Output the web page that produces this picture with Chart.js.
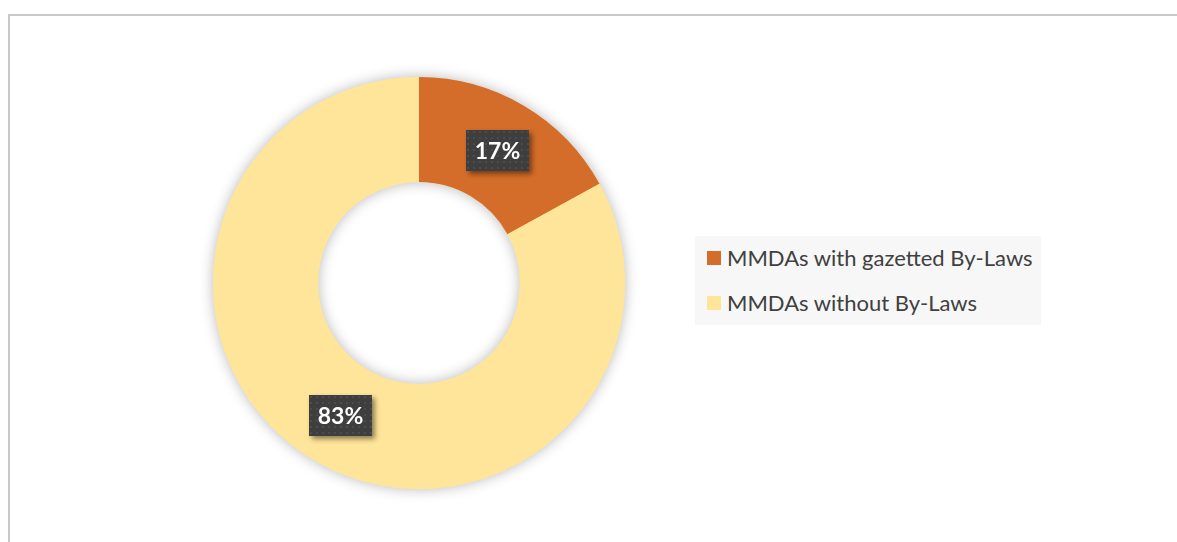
<!DOCTYPE html>
<html><head><meta charset="utf-8">
<script src="https://cdn.jsdelivr.net/npm/chart.js@4/dist/chart.umd.min.js"></script>
<style>
html,body{margin:0;padding:0;background:#fff;width:1177px;height:542px;overflow:hidden;}
#frame{position:absolute;left:8px;top:14px;width:1200px;height:600px;border-left:2px solid #c8c8c8;border-top:2px solid #c8c8c8;}
#c{position:absolute;left:0;top:0;}
#legend{position:absolute;left:695px;top:236px;width:346px;height:89px;background:#f7f7f7;font-family:Lato,"Open Sans",sans-serif;font-size:22px;color:#404040;}
.item{position:absolute;left:12px;height:24px;line-height:24px;white-space:nowrap;}
.sw{display:inline-block;width:14px;height:14px;vertical-align:middle;margin-right:6px;position:relative;top:-2px;}
</style></head>
<body>
<div id="frame"></div>
<canvas id="c" width="1177" height="542"></canvas>
<div id="legend"></div>
<script>
const categories = ["MMDAs with gazetted By-Laws", "MMDAs without By-Laws"];
const values = [17, 83];
const valueLabels = ["17%", "83%"];
const colors = ["#D46D29", "#FFE599"];

// HTML legend built from the arrays
const lg = document.getElementById('legend');
categories.forEach((cat, i) => {
  const d = document.createElement('div');
  d.className = 'item';
  d.style.top = (10 + i * 45) + 'px';
  d.innerHTML = '<span class="sw" style="background:' + colors[i] + '"></span>' + cat;
  lg.appendChild(d);
});

// dotted pattern for label boxes
function makePattern(ctx) {
  const p = document.createElement('canvas');
  p.width = 6; p.height = 6;
  const pc = p.getContext('2d');
  pc.fillStyle = '#3e3e3e';
  pc.fillRect(0, 0, 6, 6);
  pc.fillStyle = '#4c4c4c';
  pc.fillRect(1, 1, 2, 2);
  return ctx.createPattern(p, 'repeat');
}

const ringShadow = {
  id: 'ringShadow',
  beforeDatasetsDraw(chart) {
    const meta = chart.getDatasetMeta(0);
    const a = meta.data[0];
    if (!a) return;
    const ctx = chart.ctx;
    ctx.save();
    ctx.shadowColor = 'rgba(0,0,0,0.28)';
    ctx.shadowBlur = 14;
    ctx.beginPath();
    ctx.arc(a.x, a.y, a.outerRadius, 0, Math.PI * 2);
    ctx.arc(a.x, a.y, a.innerRadius, 0, Math.PI * 2, true);
    ctx.fillStyle = colors[1];
    ctx.fill('evenodd');
    ctx.restore();
  }
};

const boxLabels = {
  id: 'boxLabels',
  afterDatasetsDraw(chart) {
    const ctx = chart.ctx;
    const meta = chart.getDatasetMeta(0);
    const pat = makePattern(ctx);
    meta.data.forEach((arc, i) => {
      const pos = arc.tooltipPosition();
      const w = 63, h = 41;
      const x = Math.round(pos.x - w / 2), y = Math.round(pos.y - h / 2);
      ctx.save();
      ctx.shadowColor = 'rgba(0,0,0,0.45)';
      ctx.shadowBlur = 5;
      ctx.shadowOffsetX = 3;
      ctx.shadowOffsetY = 3;
      ctx.fillStyle = '#3e3e3e';
      ctx.fillRect(x, y, w, h);
      ctx.restore();
      ctx.save();
      ctx.fillStyle = pat;
      ctx.translate(x, y);
      ctx.fillRect(0, 0, w, h);
      ctx.restore();
      ctx.save();
      ctx.fillStyle = '#ffffff';
      ctx.font = 'bold 23px Lato, "Open Sans", sans-serif';
      ctx.textAlign = 'center';
      ctx.textBaseline = 'middle';
      ctx.fillText(valueLabels[i], x + w / 2, y + h / 2 + 1);
      ctx.restore();
    });
  }
};

new Chart(document.getElementById('c'), {
  type: 'doughnut',
  data: {
    labels: categories,
    datasets: [{
      data: values,
      backgroundColor: colors,
      borderWidth: 0,
      hoverOffset: 0
    }]
  },
  options: {
    responsive: false,
    animation: false,
    cutout: '49%',
    layout: { padding: { left: 213, right: 552, top: 77, bottom: 53 } },
    plugins: {
      legend: { display: false },
      tooltip: { enabled: false }
    }
  },
  plugins: [ringShadow, boxLabels]
});
</script>
</body></html>
